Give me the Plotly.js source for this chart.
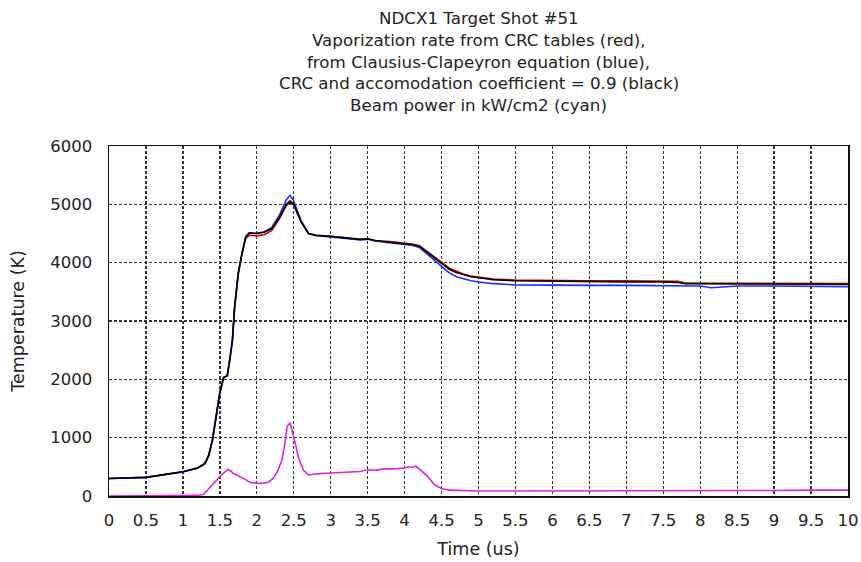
<!DOCTYPE html>
<html>
<head>
<meta charset="utf-8">
<script src="https://cdn.plot.ly/plotly-3.0.1.min.js"></script>
<style>html,body{margin:0;padding:0;background:#fff;}#chart{width:861px;height:562px;}</style>
</head>
<body>
<div id="chart"></div>
<script>
// Title lines
const titleLines = [
  "NDCX1 Target Shot #51",
  "Vaporization rate from CRC tables (red),",
  "from Clausius-Clapeyron equation (blue),",
  "CRC and accomodation coefficient = 0.9 (black)",
  "Beam power in kW/cm2 (cyan)"
];
const xTitle = "Time (us)";
const yTitle = "Temperature (K)";

// Black: CRC and accommodation coefficient = 0.9
const tBlack = [0,0.5,1,1.2,1.3,1.35,1.4,1.45,1.5,1.55,1.6,1.63,1.67,1.7,1.75,1.8,1.85,1.9,2.0,2.1,2.2,2.3,2.36,2.4,2.45,2.5,2.55,2.6,2.7,2.8,3.0,3.2,3.4,3.5,3.6,3.8,4.0,4.1,4.2,4.3,4.4,4.5,4.6,4.7,4.8,4.9,5.0,5.2,5.5,6,6.5,7,7.5,7.7,7.8,8,8.5,9,9.5,10];
const TBlack = [300,320,415,480,560,700,960,1400,1770,2030,2060,2300,2670,3240,3820,4160,4440,4510,4500,4520,4580,4760,4900,5000,5060,5000,4850,4700,4500,4470,4450,4430,4400,4410,4380,4350,4320,4310,4280,4180,4080,3990,3890,3830,3790,3760,3740,3710,3690,3680,3680,3670,3670,3660,3640,3640,3640,3640,3630,3630];

// Red: CRC tables
const tRed = [0,0.5,1,1.2,1.3,1.35,1.4,1.45,1.5,1.55,1.6,1.63,1.67,1.7,1.75,1.8,1.85,1.9,2.0,2.1,2.2,2.3,2.36,2.4,2.45,2.5,2.55,2.6,2.7,2.8,3.0,3.2,3.4,3.5,3.6,3.8,4.0,4.1,4.2,4.3,4.4,4.5,4.6,4.7,4.8,4.9,5.0,5.2,5.5,6,6.5,7,7.5,7.7,7.8,8,8.5,9,9.5,10];
const TRed = [300,320,415,480,560,700,960,1400,1770,2030,2060,2300,2670,3240,3820,4160,4420,4470,4460,4480,4550,4740,4880,4980,5030,4990,4840,4700,4500,4470,4450,4430,4400,4410,4380,4360,4330,4320,4290,4200,4100,4010,3910,3850,3800,3770,3750,3720,3700,3690,3690,3690,3690,3680,3650,3650,3650,3650,3640,3640];

// Blue: Clausius-Clapeyron
const tBlue = [0,0.5,1,1.2,1.3,1.35,1.4,1.45,1.5,1.55,1.6,1.63,1.67,1.7,1.75,1.8,1.85,1.9,2.0,2.1,2.2,2.3,2.36,2.4,2.45,2.5,2.55,2.6,2.7,2.8,3.0,3.2,3.4,3.5,3.6,3.8,4.0,4.1,4.2,4.3,4.4,4.5,4.6,4.7,4.8,4.9,5.0,5.2,5.5,6,6.5,7,7.5,7.7,8,8.15,8.3,8.5,9,9.5,10];
const TBlue = [300,320,415,480,560,700,960,1400,1770,2030,2060,2300,2670,3240,3820,4160,4440,4510,4500,4530,4600,4800,4960,5080,5150,5060,4880,4720,4500,4460,4440,4420,4390,4400,4370,4340,4310,4300,4260,4150,4040,3940,3830,3760,3720,3690,3670,3640,3620,3610,3610,3610,3610,3610,3600,3570,3580,3600,3600,3590,3590];

// Magenta: beam power (kW/cm2)
const tBeam = [0,0.5,1,1.2,1.28,1.35,1.4,1.46,1.52,1.57,1.61,1.65,1.68,1.72,1.77,1.84,1.91,2.0,2.09,2.16,2.22,2.28,2.34,2.38,2.41,2.45,2.49,2.53,2.56,2.6,2.63,2.7,2.8,2.94,3.1,3.22,3.4,3.5,3.6,3.7,3.8,3.9,4.0,4.05,4.1,4.15,4.2,4.3,4.4,4.5,4.6,4.8,5,5.5,6,6.5,7,7.5,8,8.5,9,9.5,10];
const PBeam = [0,0,10,10,30,120,200,275,360,420,457,430,388,370,330,290,230,220,217,240,300,420,617,900,1190,1257,1075,850,675,540,445,360,380,390,400,417,420,450,440,460,460,470,480,500,490,510,460,350,200,130,100,90,85,85,85,90,90,90,90,95,95,100,100];

const black = {x: tBlack, y: TBlack, mode: 'lines', line: {color: '#000000', width: 1.6}, hoverinfo: 'none'};
const red = {x: tRed, y: TRed, mode: 'lines', line: {color: '#dd0000', width: 1.6}, hoverinfo: 'none'};
const blue = {x: tBlue, y: TBlue, mode: 'lines', line: {color: '#1a2fff', width: 1.6}, hoverinfo: 'none'};
const beam = {x: tBeam, y: PBeam, mode: 'lines', line: {color: '#e020e0', width: 1.6}, hoverinfo: 'none'};

const fam = 'DejaVu Sans, sans-serif';
const titleFont = {family: fam, size: 16.7, color: '#222'};
const tickFont = {family: fam, size: 16.5, color: '#222'};
const axTitleFont = {family: fam, size: 17.5, color: '#222'};

const annotations = titleLines.map((s, i) => ({
  text: s, xref: 'paper', yref: 'paper', x: 0.5, y: 1 + (146 - (18 + i * 21.8)) / 350,
  xanchor: 'center', yanchor: 'middle', showarrow: false, font: titleFont
}));

const layout = {
  width: 861, height: 562,
  margin: {l: 109, r: 13, t: 146, b: 66, pad: 0},
  paper_bgcolor: '#fff', plot_bgcolor: '#fff',
  showlegend: false,
  font: tickFont,
  annotations: annotations,
  xaxis: {
    range: [0, 10], dtick: 0.5, tick0: 0,
    showgrid: true, gridcolor: '#333', gridwidth: 1.3, griddash: '3px,2px',
    zeroline: false, showline: true, mirror: true, linecolor: '#111', linewidth: 1.5,
    ticks: '', ticklabelstandoff: 9, tickfont: tickFont,
    title: {text: xTitle, font: axTitleFont, standoff: 13}
  },
  yaxis: {
    range: [0, 6000], dtick: 1000, tick0: 0,
    showgrid: true, gridcolor: '#333', gridwidth: 1.3, griddash: '3px,2px',
    zeroline: false, showline: true, mirror: true, linecolor: '#111', linewidth: 1.5,
    ticks: '', ticklabelstandoff: 12, tickfont: tickFont,
    title: {text: yTitle, font: axTitleFont, standoff: 21}
  }
};

Plotly.newPlot('chart', [red, blue, black, beam], layout, {staticPlot: true});
</script>
</body>
</html>
